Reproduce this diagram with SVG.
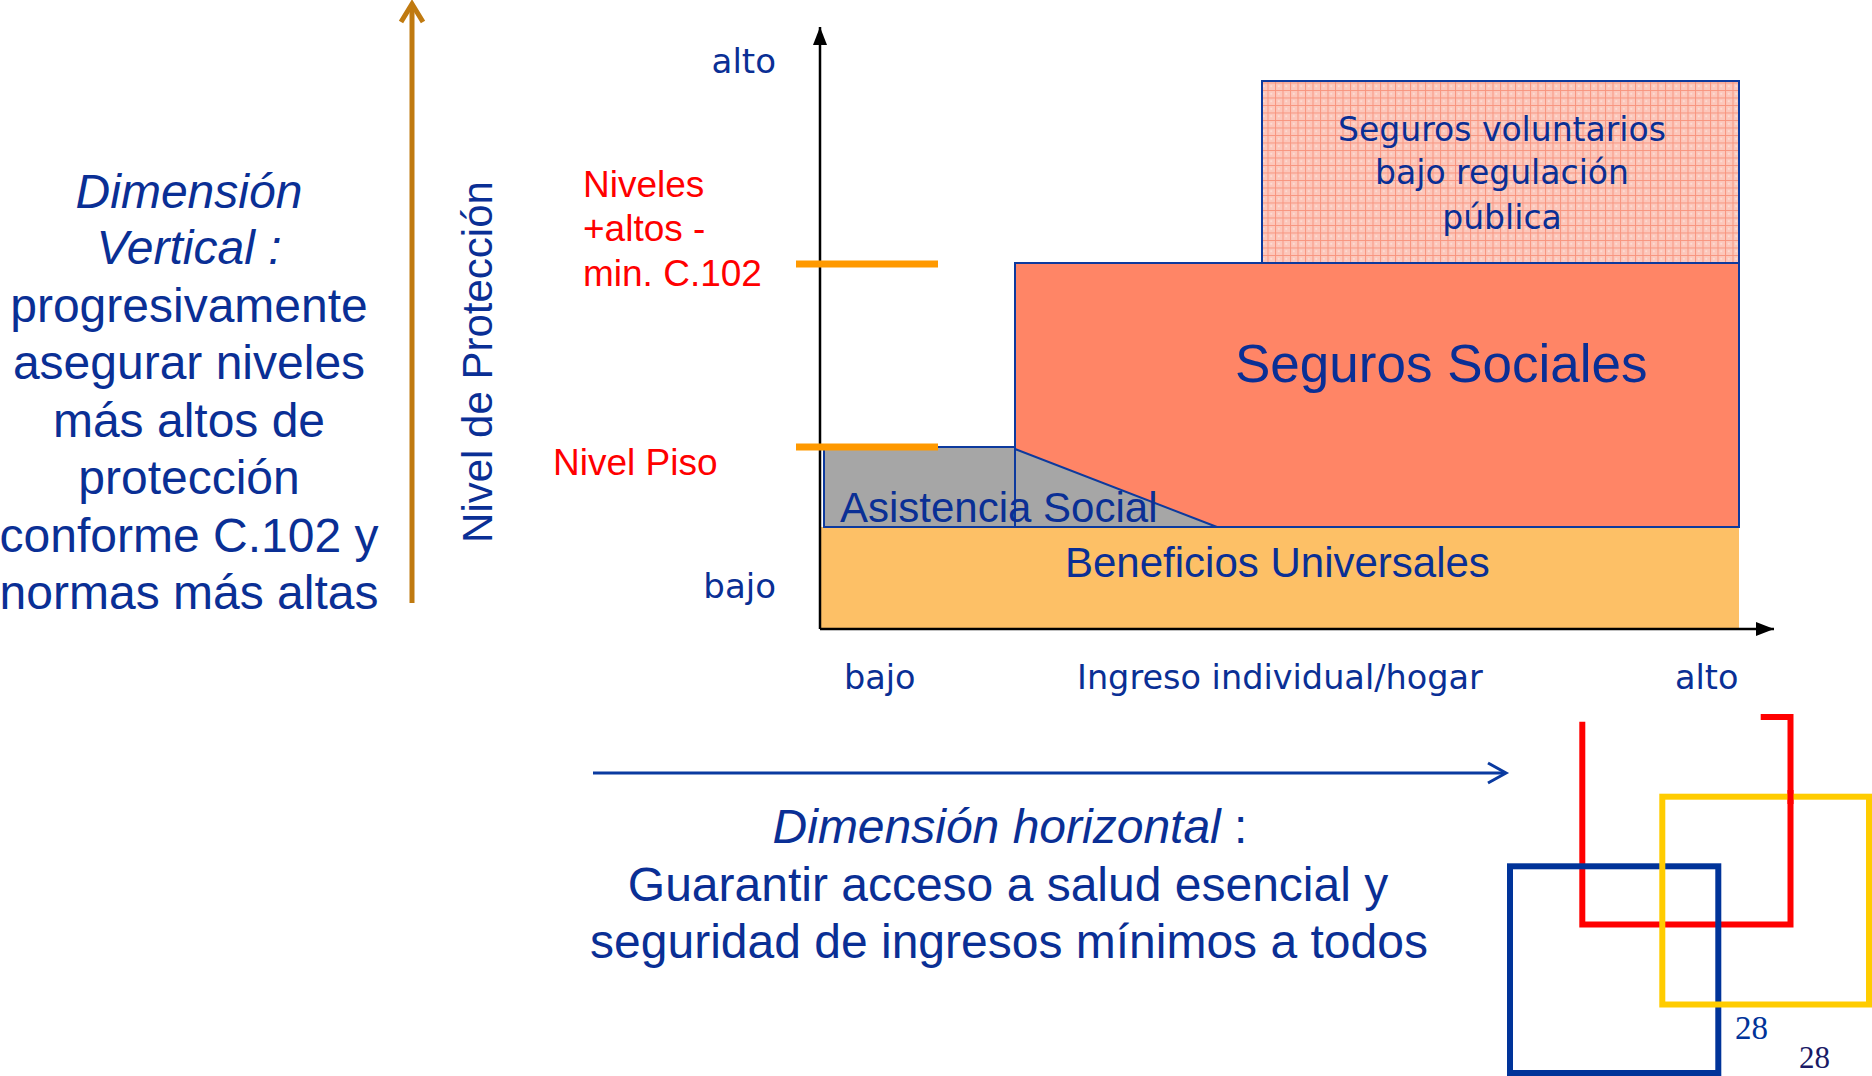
<svg xmlns="http://www.w3.org/2000/svg" width="1872" height="1076" viewBox="0 0 1872 1076">
<style>
.ar{font-family:"Liberation Sans",Arial,sans-serif;fill:#0A2F95}
.dv{font-family:"DejaVu Sans",Verdana,sans-serif;fill:#0A2F95}
.red{font-family:"Liberation Sans",Arial,sans-serif;fill:#FF0000;font-size:37px}
.box{stroke:#0D3A9E;stroke-width:2}
.logo{fill:none;stroke-width:6;stroke-linecap:butt;stroke-linejoin:miter}
</style>
<defs>
<pattern id="grid" width="7.5" height="7.5" patternUnits="userSpaceOnUse">
<rect width="7.5" height="7.5" fill="#FCC7BB"/>
<path d="M0 0.5H7.5M0.5 0V7.5" stroke="#F8957F" stroke-width="1"/>
<rect x="3" y="3" width="1.5" height="1.5" fill="#FFE6E0"/>
</pattern>
<marker id="tri" viewBox="0 0 18 14" refX="18" refY="7" markerWidth="18" markerHeight="14" orient="auto" markerUnits="userSpaceOnUse">
<path d="M0 0L18 7L0 14z" fill="#000"/>
</marker>
</defs>
<rect width="1872" height="1076" fill="#fff"/>

<g id="left-text" class="ar" font-size="48" text-anchor="middle">
<text x="189" y="208" font-style="italic">Dimensión</text>
<text x="189" y="264" font-style="italic">Vertical :</text>
<text x="189" y="322">progresivamente</text>
<text x="189" y="379">asegurar niveles</text>
<text x="189" y="437">más altos de</text>
<text x="189" y="494">protección</text>
<text x="189" y="552">conforme C.102 y</text>
<text x="189" y="609">normas más altas</text>
</g>

<g id="y-title">
<text class="ar" font-size="42" text-anchor="middle" transform="translate(492,362) rotate(-90)">Nivel de Protección</text>
</g>

<g id="y-labels" class="dv" font-size="34" text-anchor="end">
<text x="776" y="73">alto</text>
<text x="776" y="598">bajo</text>
</g>

<g id="level-labels">
<text class="red" x="583" y="197">Niveles</text>
<text class="red" x="583" y="241">+altos -</text>
<text class="red" x="583" y="286">min. C.102</text>
<text class="red" x="553" y="475">Nivel Piso</text>
</g>

<g id="beneficios">
<rect x="821" y="527" width="918" height="102" fill="#FDC066"/>
<text class="ar" font-size="42" x="1065" y="577">Beneficios Universales</text>
</g>

<g id="voluntarios">
<rect class="box" x="1262" y="81" width="477" height="182" fill="url(#grid)"/>
<text class="dv" font-size="33" text-anchor="middle" x="1502" y="141">Seguros voluntarios</text>
<text class="dv" font-size="33" text-anchor="middle" x="1502" y="184">bajo regulación</text>
<text class="dv" font-size="33" text-anchor="middle" x="1502" y="229">pública</text>
</g>

<g id="sociales">
<rect class="box" x="1015" y="263" width="724" height="264" fill="#FF8566"/>
<text class="ar" font-size="53" x="1235" y="382">Seguros Sociales</text>
</g>

<g id="asistencia">
<rect class="box" x="824" y="447" width="191" height="80" fill="#A6A6A6"/>
<path class="box" d="M1015 449L1217 527H1015z" fill="#A6A6A6"/>
<text class="ar" font-size="42" x="840" y="522">Asistencia Social</text>
</g>

<g id="connectors">
<line x1="820" y1="629" x2="820" y2="27" stroke="#000" stroke-width="2.5" marker-end="url(#tri)"/>
<line x1="820" y1="629" x2="1774" y2="629" stroke="#000" stroke-width="2.5" marker-end="url(#tri)"/>
<line x1="796" y1="264" x2="938" y2="264" stroke="#FF9900" stroke-width="7"/>
<line x1="796" y1="447" x2="938" y2="447" stroke="#FF9900" stroke-width="7"/>
<line x1="412" y1="603" x2="412" y2="5" stroke="#C07A10" stroke-width="5"/>
<path d="M401 22L412 4L423 22" fill="none" stroke="#C07A10" stroke-width="5"/>
<line x1="593" y1="773" x2="1504" y2="773" stroke="#0A3AA0" stroke-width="3"/>
<path d="M1488 763L1506 773L1488 783" fill="none" stroke="#0A3AA0" stroke-width="3"/>
</g>

<g id="x-labels" class="dv" font-size="33.5">
<text x="844" y="689">bajo</text>
<text x="1077" y="689">Ingreso individual/hogar</text>
<text x="1675" y="689">alto</text>
</g>

<g id="bottom-text" class="ar" font-size="48" text-anchor="middle">
<text x="1010" y="843"><tspan font-style="italic">Dimensión horizontal</tspan> :</text>
<text x="1008" y="901">Guarantir acceso a salud esencial y</text>
<text x="1009" y="958">seguridad de ingresos mínimos a todos</text>
</g>

<g id="logo">
<path class="logo" stroke="#FF0000" d="M1582.3 721.7V924.5H1790.5V717H1760.7"/>
<rect class="logo" stroke="#003399" x="1510" y="866.3" width="208.3" height="206.7"/>
<rect class="logo" stroke="#FFCC00" x="1662.3" y="796.7" width="206.7" height="207.8"/>
<line x1="1790.5" y1="790" x2="1790.5" y2="804" stroke="#FF0000" stroke-width="6"/>
<text x="1735" y="1039" font-family="'Liberation Serif','Times New Roman',serif" font-size="33" fill="#003399">28</text>
<text x="1799" y="1068" font-family="'Liberation Serif','Times New Roman',serif" font-size="31" fill="#1A1A66">28</text>
</g>
</svg>
